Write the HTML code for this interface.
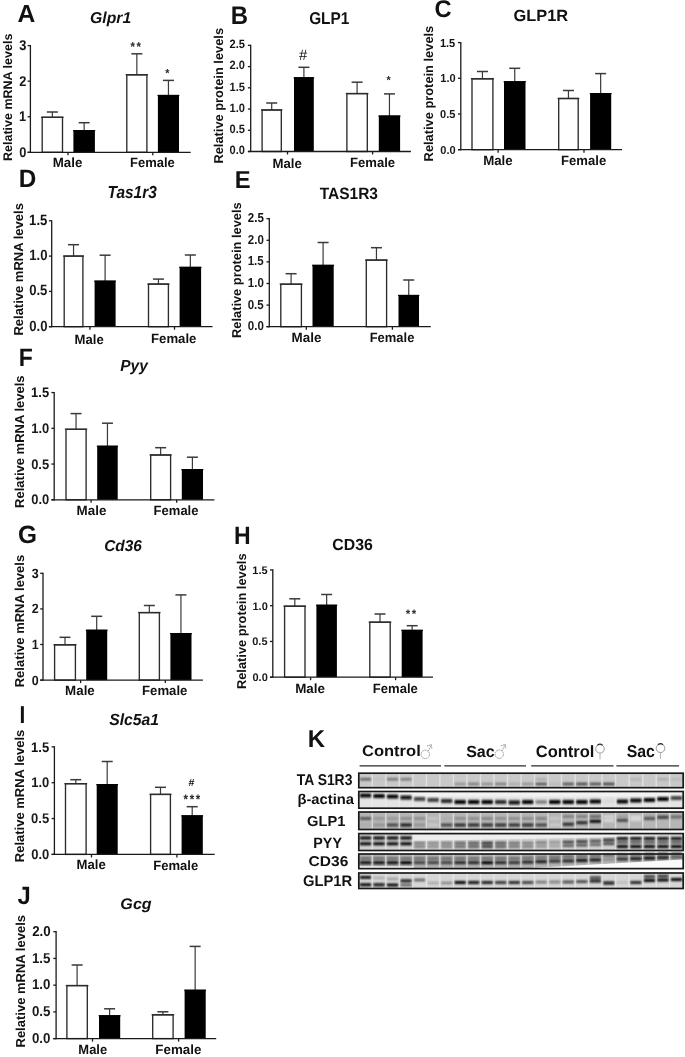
<!DOCTYPE html>
<html><head><meta charset="utf-8"><style>
html,body{margin:0;padding:0;background:#fff;}
body{width:685px;height:1057px;overflow:hidden;}
svg{display:block;font-family:"Liberation Sans", sans-serif;filter:grayscale(1);text-rendering:geometricPrecision;}
</style></head><body>
<svg width="685" height="1057" viewBox="0 0 685 1057">
<defs><filter id="bl" x="-20%" y="-50%" width="140%" height="200%"><feGaussianBlur stdDeviation="0.9"/></filter><filter id="bl2" x="-20%" y="-50%" width="140%" height="200%"><feGaussianBlur stdDeviation="0.5"/></filter></defs>
<rect width="685" height="1057" fill="#fff"/>
<line x1="27.599999999999998" y1="152.3" x2="30.4" y2="152.3" stroke="#1a1a1a" stroke-width="1.3"/>
<line x1="27.599999999999998" y1="116.73000000000002" x2="30.4" y2="116.73000000000002" stroke="#1a1a1a" stroke-width="1.3"/>
<line x1="27.599999999999998" y1="81.16000000000001" x2="30.4" y2="81.16000000000001" stroke="#1a1a1a" stroke-width="1.3"/>
<line x1="27.599999999999998" y1="45.59" x2="30.4" y2="45.59" stroke="#1a1a1a" stroke-width="1.3"/>
<line x1="30.4" y1="44.99" x2="30.4" y2="152.9" stroke="#1a1a1a" stroke-width="1.3"/>
<line x1="52.349999999999994" y1="112" x2="52.349999999999994" y2="117.3" stroke="#3a3a3a" stroke-width="1.2"/>
<line x1="46.849999999999994" y1="112" x2="57.849999999999994" y2="112" stroke="#3a3a3a" stroke-width="1.5"/>
<rect x="42.199999999999996" y="117.3" width="20.299999999999997" height="35.000000000000014" fill="#fff" stroke="#2c2c2c" stroke-width="1.35"/>
<line x1="41.1" y1="117.3" x2="63.599999999999994" y2="117.3" stroke="#2c2c2c" stroke-width="1.35"/>
<line x1="84.15" y1="122.7" x2="84.15" y2="130.7" stroke="#3a3a3a" stroke-width="1.2"/>
<line x1="78.65" y1="122.7" x2="89.65" y2="122.7" stroke="#3a3a3a" stroke-width="1.5"/>
<rect x="73.4" y="130.1" width="21.5" height="22.200000000000024" fill="#000"/>
<line x1="73.05000000000001" y1="130.7" x2="95.25" y2="130.7" stroke="#000" stroke-width="1.2"/>
<line x1="136.85" y1="53.8" x2="136.85" y2="74.8" stroke="#3a3a3a" stroke-width="1.2"/>
<line x1="131.35" y1="53.8" x2="142.35" y2="53.8" stroke="#3a3a3a" stroke-width="1.5"/>
<rect x="126.8" y="74.8" width="20.099999999999987" height="77.50000000000001" fill="#fff" stroke="#2c2c2c" stroke-width="1.35"/>
<line x1="125.7" y1="74.8" x2="148.0" y2="74.8" stroke="#2c2c2c" stroke-width="1.35"/>
<line x1="168.45" y1="80.4" x2="168.45" y2="95.5" stroke="#3a3a3a" stroke-width="1.2"/>
<line x1="162.95" y1="80.4" x2="173.95" y2="80.4" stroke="#3a3a3a" stroke-width="1.5"/>
<rect x="157.9" y="94.9" width="21.099999999999994" height="57.40000000000001" fill="#000"/>
<line x1="157.55" y1="95.5" x2="179.35" y2="95.5" stroke="#000" stroke-width="1.2"/>
<line x1="27.599999999999998" y1="152.3" x2="190.7" y2="152.3" stroke="#1a1a1a" stroke-width="1.3"/>
<line x1="68.0" y1="152.3" x2="68.0" y2="155.3" stroke="#1a1a1a" stroke-width="1.3"/>
<line x1="152.8" y1="152.3" x2="152.8" y2="155.3" stroke="#1a1a1a" stroke-width="1.3"/>
<text transform="translate(11.8,161) rotate(-90)" font-size="12.5" font-weight="bold" fill="#111">Relative mRNA levels</text>
<line x1="247.89999999999998" y1="151.5" x2="250.7" y2="151.5" stroke="#1a1a1a" stroke-width="1.3"/>
<line x1="247.89999999999998" y1="130.275" x2="250.7" y2="130.275" stroke="#1a1a1a" stroke-width="1.3"/>
<line x1="247.89999999999998" y1="109.05" x2="250.7" y2="109.05" stroke="#1a1a1a" stroke-width="1.3"/>
<line x1="247.89999999999998" y1="87.82499999999999" x2="250.7" y2="87.82499999999999" stroke="#1a1a1a" stroke-width="1.3"/>
<line x1="247.89999999999998" y1="66.6" x2="250.7" y2="66.6" stroke="#1a1a1a" stroke-width="1.3"/>
<line x1="247.89999999999998" y1="45.375" x2="250.7" y2="45.375" stroke="#1a1a1a" stroke-width="1.3"/>
<line x1="250.7" y1="44.775" x2="250.7" y2="152.1" stroke="#1a1a1a" stroke-width="1.3"/>
<line x1="271.70000000000005" y1="103" x2="271.70000000000005" y2="110" stroke="#3a3a3a" stroke-width="1.2"/>
<line x1="266.20000000000005" y1="103" x2="277.20000000000005" y2="103" stroke="#3a3a3a" stroke-width="1.5"/>
<rect x="262.1" y="110" width="19.20000000000001" height="41.5" fill="#fff" stroke="#2c2c2c" stroke-width="1.35"/>
<line x1="261.0" y1="110" x2="282.40000000000003" y2="110" stroke="#2c2c2c" stroke-width="1.35"/>
<line x1="303.9" y1="67.3" x2="303.9" y2="77.8" stroke="#3a3a3a" stroke-width="1.2"/>
<line x1="298.4" y1="67.3" x2="309.4" y2="67.3" stroke="#3a3a3a" stroke-width="1.5"/>
<rect x="294" y="77.2" width="19.80000000000001" height="74.3" fill="#000"/>
<line x1="293.65" y1="77.8" x2="314.15000000000003" y2="77.8" stroke="#000" stroke-width="1.2"/>
<line x1="357.1" y1="82.2" x2="357.1" y2="93.6" stroke="#3a3a3a" stroke-width="1.2"/>
<line x1="351.6" y1="82.2" x2="362.6" y2="82.2" stroke="#3a3a3a" stroke-width="1.5"/>
<rect x="346.90000000000003" y="93.6" width="20.4" height="57.900000000000006" fill="#fff" stroke="#2c2c2c" stroke-width="1.35"/>
<line x1="345.8" y1="93.6" x2="368.40000000000003" y2="93.6" stroke="#2c2c2c" stroke-width="1.35"/>
<line x1="389.45000000000005" y1="93.9" x2="389.45000000000005" y2="116.1" stroke="#3a3a3a" stroke-width="1.2"/>
<line x1="383.95000000000005" y1="93.9" x2="394.95000000000005" y2="93.9" stroke="#3a3a3a" stroke-width="1.5"/>
<rect x="378.8" y="115.5" width="21.30000000000001" height="36.00000000000001" fill="#000"/>
<line x1="378.45" y1="116.1" x2="400.45000000000005" y2="116.1" stroke="#000" stroke-width="1.2"/>
<line x1="247.89999999999998" y1="151.5" x2="410.9" y2="151.5" stroke="#1a1a1a" stroke-width="1.3"/>
<line x1="287.5" y1="151.5" x2="287.5" y2="154.5" stroke="#1a1a1a" stroke-width="1.3"/>
<line x1="372.6" y1="151.5" x2="372.6" y2="154.5" stroke="#1a1a1a" stroke-width="1.3"/>
<text transform="translate(223.3,163.6) rotate(-90)" font-size="12.85" font-weight="bold" fill="#111">Relative protein levels</text>
<line x1="458.0" y1="149.7" x2="460.8" y2="149.7" stroke="#1a1a1a" stroke-width="1.3"/>
<line x1="458.0" y1="113.99999999999999" x2="460.8" y2="113.99999999999999" stroke="#1a1a1a" stroke-width="1.3"/>
<line x1="458.0" y1="78.29999999999998" x2="460.8" y2="78.29999999999998" stroke="#1a1a1a" stroke-width="1.3"/>
<line x1="458.0" y1="42.59999999999998" x2="460.8" y2="42.59999999999998" stroke="#1a1a1a" stroke-width="1.3"/>
<line x1="460.8" y1="41.99999999999998" x2="460.8" y2="150.29999999999998" stroke="#1a1a1a" stroke-width="1.3"/>
<line x1="482.45" y1="71.5" x2="482.45" y2="78.8" stroke="#3a3a3a" stroke-width="1.2"/>
<line x1="476.95" y1="71.5" x2="487.95" y2="71.5" stroke="#3a3a3a" stroke-width="1.5"/>
<rect x="472.0" y="78.8" width="20.9" height="70.89999999999999" fill="#fff" stroke="#2c2c2c" stroke-width="1.35"/>
<line x1="470.9" y1="78.8" x2="494.0" y2="78.8" stroke="#2c2c2c" stroke-width="1.35"/>
<line x1="514.75" y1="68.3" x2="514.75" y2="81.8" stroke="#3a3a3a" stroke-width="1.2"/>
<line x1="509.25" y1="68.3" x2="520.25" y2="68.3" stroke="#3a3a3a" stroke-width="1.5"/>
<rect x="504" y="81.2" width="21.5" height="68.49999999999999" fill="#000"/>
<line x1="503.65" y1="81.8" x2="525.85" y2="81.8" stroke="#000" stroke-width="1.2"/>
<line x1="568.45" y1="90.5" x2="568.45" y2="98.5" stroke="#3a3a3a" stroke-width="1.2"/>
<line x1="562.95" y1="90.5" x2="573.95" y2="90.5" stroke="#3a3a3a" stroke-width="1.5"/>
<rect x="558.6999999999999" y="98.5" width="19.50000000000002" height="51.19999999999999" fill="#fff" stroke="#2c2c2c" stroke-width="1.35"/>
<line x1="557.6" y1="98.5" x2="579.3" y2="98.5" stroke="#2c2c2c" stroke-width="1.35"/>
<line x1="600.6500000000001" y1="73.6" x2="600.6500000000001" y2="93.6" stroke="#3a3a3a" stroke-width="1.2"/>
<line x1="595.1500000000001" y1="73.6" x2="606.1500000000001" y2="73.6" stroke="#3a3a3a" stroke-width="1.5"/>
<rect x="590.1" y="93.0" width="21.100000000000023" height="56.699999999999996" fill="#000"/>
<line x1="589.75" y1="93.6" x2="611.5500000000001" y2="93.6" stroke="#000" stroke-width="1.2"/>
<line x1="458.0" y1="149.7" x2="622" y2="149.7" stroke="#1a1a1a" stroke-width="1.3"/>
<line x1="498.1" y1="149.7" x2="498.1" y2="152.7" stroke="#1a1a1a" stroke-width="1.3"/>
<line x1="584" y1="149.7" x2="584" y2="152.7" stroke="#1a1a1a" stroke-width="1.3"/>
<text transform="translate(433.4,161.4) rotate(-90)" font-size="12.85" font-weight="bold" fill="#111">Relative protein levels</text>
<line x1="48.900000000000006" y1="326.7" x2="51.7" y2="326.7" stroke="#1a1a1a" stroke-width="1.3"/>
<line x1="48.900000000000006" y1="291.4" x2="51.7" y2="291.4" stroke="#1a1a1a" stroke-width="1.3"/>
<line x1="48.900000000000006" y1="256.1" x2="51.7" y2="256.1" stroke="#1a1a1a" stroke-width="1.3"/>
<line x1="48.900000000000006" y1="220.8" x2="51.7" y2="220.8" stroke="#1a1a1a" stroke-width="1.3"/>
<line x1="51.7" y1="220.20000000000002" x2="51.7" y2="327.3" stroke="#1a1a1a" stroke-width="1.3"/>
<line x1="73.55" y1="244.7" x2="73.55" y2="256.1" stroke="#3a3a3a" stroke-width="1.2"/>
<line x1="68.05" y1="244.7" x2="79.05" y2="244.7" stroke="#3a3a3a" stroke-width="1.5"/>
<rect x="64.2" y="256.1" width="18.700000000000003" height="70.59999999999997" fill="#fff" stroke="#2c2c2c" stroke-width="1.35"/>
<line x1="63.1" y1="256.1" x2="84.0" y2="256.1" stroke="#2c2c2c" stroke-width="1.35"/>
<line x1="105.1" y1="255.2" x2="105.1" y2="281.2" stroke="#3a3a3a" stroke-width="1.2"/>
<line x1="99.6" y1="255.2" x2="110.6" y2="255.2" stroke="#3a3a3a" stroke-width="1.5"/>
<rect x="94.6" y="280.59999999999997" width="21.0" height="46.1" fill="#000"/>
<line x1="94.25" y1="281.2" x2="115.94999999999999" y2="281.2" stroke="#000" stroke-width="1.2"/>
<line x1="158.45" y1="279.1" x2="158.45" y2="284.1" stroke="#3a3a3a" stroke-width="1.2"/>
<line x1="152.95" y1="279.1" x2="163.95" y2="279.1" stroke="#3a3a3a" stroke-width="1.5"/>
<rect x="148.5" y="284.1" width="19.9" height="42.599999999999966" fill="#fff" stroke="#2c2c2c" stroke-width="1.35"/>
<line x1="147.39999999999998" y1="284.1" x2="169.5" y2="284.1" stroke="#2c2c2c" stroke-width="1.35"/>
<line x1="190.35" y1="255" x2="190.35" y2="267.4" stroke="#3a3a3a" stroke-width="1.2"/>
<line x1="184.85" y1="255" x2="195.85" y2="255" stroke="#3a3a3a" stroke-width="1.5"/>
<rect x="179.6" y="266.79999999999995" width="21.5" height="59.90000000000001" fill="#000"/>
<line x1="179.25" y1="267.4" x2="201.45" y2="267.4" stroke="#000" stroke-width="1.2"/>
<line x1="48.900000000000006" y1="326.7" x2="212.5" y2="326.7" stroke="#1a1a1a" stroke-width="1.3"/>
<line x1="89.9" y1="326.7" x2="89.9" y2="329.7" stroke="#1a1a1a" stroke-width="1.3"/>
<line x1="174.5" y1="326.7" x2="174.5" y2="329.7" stroke="#1a1a1a" stroke-width="1.3"/>
<text transform="translate(22.6,335.6) rotate(-90)" font-size="13.0" font-weight="bold" fill="#111">Relative mRNA levels</text>
<line x1="266.5" y1="326.7" x2="269.3" y2="326.7" stroke="#1a1a1a" stroke-width="1.3"/>
<line x1="266.5" y1="305.09999999999997" x2="269.3" y2="305.09999999999997" stroke="#1a1a1a" stroke-width="1.3"/>
<line x1="266.5" y1="283.5" x2="269.3" y2="283.5" stroke="#1a1a1a" stroke-width="1.3"/>
<line x1="266.5" y1="261.9" x2="269.3" y2="261.9" stroke="#1a1a1a" stroke-width="1.3"/>
<line x1="266.5" y1="240.29999999999998" x2="269.3" y2="240.29999999999998" stroke="#1a1a1a" stroke-width="1.3"/>
<line x1="266.5" y1="218.7" x2="269.3" y2="218.7" stroke="#1a1a1a" stroke-width="1.3"/>
<line x1="269.3" y1="218.1" x2="269.3" y2="327.3" stroke="#1a1a1a" stroke-width="1.3"/>
<line x1="291.1" y1="273.7" x2="291.1" y2="284.2" stroke="#3a3a3a" stroke-width="1.2"/>
<line x1="285.6" y1="273.7" x2="296.6" y2="273.7" stroke="#3a3a3a" stroke-width="1.5"/>
<rect x="280.8" y="284.2" width="20.599999999999987" height="42.5" fill="#fff" stroke="#2c2c2c" stroke-width="1.35"/>
<line x1="279.7" y1="284.2" x2="302.5" y2="284.2" stroke="#2c2c2c" stroke-width="1.35"/>
<line x1="323.1" y1="242.5" x2="323.1" y2="265.4" stroke="#3a3a3a" stroke-width="1.2"/>
<line x1="317.6" y1="242.5" x2="328.6" y2="242.5" stroke="#3a3a3a" stroke-width="1.5"/>
<rect x="312.5" y="264.79999999999995" width="21.19999999999999" height="61.90000000000001" fill="#000"/>
<line x1="312.15" y1="265.4" x2="334.05" y2="265.4" stroke="#000" stroke-width="1.2"/>
<line x1="376.45" y1="247.7" x2="376.45" y2="260.1" stroke="#3a3a3a" stroke-width="1.2"/>
<line x1="370.95" y1="247.7" x2="381.95" y2="247.7" stroke="#3a3a3a" stroke-width="1.5"/>
<rect x="366.3" y="260.1" width="20.299999999999976" height="66.59999999999997" fill="#fff" stroke="#2c2c2c" stroke-width="1.35"/>
<line x1="365.2" y1="260.1" x2="387.7" y2="260.1" stroke="#2c2c2c" stroke-width="1.35"/>
<line x1="408.75" y1="280" x2="408.75" y2="295.5" stroke="#3a3a3a" stroke-width="1.2"/>
<line x1="403.25" y1="280" x2="414.25" y2="280" stroke="#3a3a3a" stroke-width="1.5"/>
<rect x="398.5" y="294.9" width="20.5" height="31.79999999999999" fill="#000"/>
<line x1="398.15" y1="295.5" x2="419.35" y2="295.5" stroke="#000" stroke-width="1.2"/>
<line x1="266.5" y1="326.7" x2="430.8" y2="326.7" stroke="#1a1a1a" stroke-width="1.3"/>
<line x1="306.3" y1="326.7" x2="306.3" y2="329.7" stroke="#1a1a1a" stroke-width="1.3"/>
<line x1="392.4" y1="326.7" x2="392.4" y2="329.7" stroke="#1a1a1a" stroke-width="1.3"/>
<text transform="translate(241.4,338) rotate(-90)" font-size="12.85" font-weight="bold" fill="#111">Relative protein levels</text>
<line x1="51.400000000000006" y1="499.8" x2="54.2" y2="499.8" stroke="#1a1a1a" stroke-width="1.3"/>
<line x1="51.400000000000006" y1="464.05" x2="54.2" y2="464.05" stroke="#1a1a1a" stroke-width="1.3"/>
<line x1="51.400000000000006" y1="428.3" x2="54.2" y2="428.3" stroke="#1a1a1a" stroke-width="1.3"/>
<line x1="51.400000000000006" y1="392.55" x2="54.2" y2="392.55" stroke="#1a1a1a" stroke-width="1.3"/>
<line x1="54.2" y1="391.95" x2="54.2" y2="500.40000000000003" stroke="#1a1a1a" stroke-width="1.3"/>
<line x1="76.05000000000001" y1="413.6" x2="76.05000000000001" y2="429.3" stroke="#3a3a3a" stroke-width="1.2"/>
<line x1="70.55000000000001" y1="413.6" x2="81.55000000000001" y2="413.6" stroke="#3a3a3a" stroke-width="1.5"/>
<rect x="66.0" y="429.3" width="20.1" height="70.5" fill="#fff" stroke="#2c2c2c" stroke-width="1.35"/>
<line x1="64.9" y1="429.3" x2="87.2" y2="429.3" stroke="#2c2c2c" stroke-width="1.35"/>
<line x1="107.45" y1="423.2" x2="107.45" y2="446.3" stroke="#3a3a3a" stroke-width="1.2"/>
<line x1="101.95" y1="423.2" x2="112.95" y2="423.2" stroke="#3a3a3a" stroke-width="1.5"/>
<rect x="97.2" y="445.7" width="20.5" height="54.1" fill="#000"/>
<line x1="96.85000000000001" y1="446.3" x2="118.05" y2="446.3" stroke="#000" stroke-width="1.2"/>
<line x1="160.65" y1="447.7" x2="160.65" y2="455" stroke="#3a3a3a" stroke-width="1.2"/>
<line x1="155.15" y1="447.7" x2="166.15" y2="447.7" stroke="#3a3a3a" stroke-width="1.5"/>
<rect x="150.70000000000002" y="455" width="19.9" height="44.80000000000001" fill="#fff" stroke="#2c2c2c" stroke-width="1.35"/>
<line x1="149.6" y1="455" x2="171.70000000000002" y2="455" stroke="#2c2c2c" stroke-width="1.35"/>
<line x1="192.4" y1="457.2" x2="192.4" y2="469.6" stroke="#3a3a3a" stroke-width="1.2"/>
<line x1="186.9" y1="457.2" x2="197.9" y2="457.2" stroke="#3a3a3a" stroke-width="1.5"/>
<rect x="181.8" y="469.0" width="21.19999999999999" height="30.79999999999999" fill="#000"/>
<line x1="181.45000000000002" y1="469.6" x2="203.35" y2="469.6" stroke="#000" stroke-width="1.2"/>
<line x1="51.400000000000006" y1="499.8" x2="214.4" y2="499.8" stroke="#1a1a1a" stroke-width="1.3"/>
<line x1="91.1" y1="499.8" x2="91.1" y2="502.8" stroke="#1a1a1a" stroke-width="1.3"/>
<line x1="176.7" y1="499.8" x2="176.7" y2="502.8" stroke="#1a1a1a" stroke-width="1.3"/>
<text transform="translate(24.3,507.9) rotate(-90)" font-size="13.0" font-weight="bold" fill="#111">Relative mRNA levels</text>
<line x1="40.2" y1="680.1" x2="43.0" y2="680.1" stroke="#1a1a1a" stroke-width="1.3"/>
<line x1="40.2" y1="644.5" x2="43.0" y2="644.5" stroke="#1a1a1a" stroke-width="1.3"/>
<line x1="40.2" y1="608.9" x2="43.0" y2="608.9" stroke="#1a1a1a" stroke-width="1.3"/>
<line x1="40.2" y1="573.3" x2="43.0" y2="573.3" stroke="#1a1a1a" stroke-width="1.3"/>
<line x1="43.0" y1="572.6999999999999" x2="43.0" y2="680.7" stroke="#1a1a1a" stroke-width="1.3"/>
<line x1="65.0" y1="637.3" x2="65.0" y2="644.8" stroke="#3a3a3a" stroke-width="1.2"/>
<line x1="59.5" y1="637.3" x2="70.5" y2="637.3" stroke="#3a3a3a" stroke-width="1.5"/>
<rect x="54.599999999999994" y="644.8" width="20.800000000000004" height="35.30000000000007" fill="#fff" stroke="#2c2c2c" stroke-width="1.35"/>
<line x1="53.5" y1="644.8" x2="76.5" y2="644.8" stroke="#2c2c2c" stroke-width="1.35"/>
<line x1="96.7" y1="616.3" x2="96.7" y2="630.3" stroke="#3a3a3a" stroke-width="1.2"/>
<line x1="91.2" y1="616.3" x2="102.2" y2="616.3" stroke="#3a3a3a" stroke-width="1.5"/>
<rect x="86.2" y="629.6999999999999" width="21.0" height="50.40000000000007" fill="#000"/>
<line x1="85.85000000000001" y1="630.3" x2="107.55" y2="630.3" stroke="#000" stroke-width="1.2"/>
<line x1="149.35" y1="605.5" x2="149.35" y2="612.6" stroke="#3a3a3a" stroke-width="1.2"/>
<line x1="143.85" y1="605.5" x2="154.85" y2="605.5" stroke="#3a3a3a" stroke-width="1.5"/>
<rect x="139.3" y="612.6" width="20.099999999999987" height="67.5" fill="#fff" stroke="#2c2c2c" stroke-width="1.35"/>
<line x1="138.2" y1="612.6" x2="160.5" y2="612.6" stroke="#2c2c2c" stroke-width="1.35"/>
<line x1="180.95" y1="594.9" x2="180.95" y2="633.6" stroke="#3a3a3a" stroke-width="1.2"/>
<line x1="175.45" y1="594.9" x2="186.45" y2="594.9" stroke="#3a3a3a" stroke-width="1.5"/>
<rect x="170.4" y="633.0" width="21.099999999999994" height="47.1" fill="#000"/>
<line x1="170.05" y1="633.6" x2="191.85" y2="633.6" stroke="#000" stroke-width="1.2"/>
<line x1="40.2" y1="680.1" x2="202.9" y2="680.1" stroke="#1a1a1a" stroke-width="1.3"/>
<line x1="80.6" y1="680.1" x2="80.6" y2="683.1" stroke="#1a1a1a" stroke-width="1.3"/>
<line x1="165.3" y1="680.1" x2="165.3" y2="683.1" stroke="#1a1a1a" stroke-width="1.3"/>
<text transform="translate(24.3,687.3) rotate(-90)" font-size="13.0" font-weight="bold" fill="#111">Relative mRNA levels</text>
<line x1="270.0" y1="677.2" x2="272.8" y2="677.2" stroke="#1a1a1a" stroke-width="1.3"/>
<line x1="270.0" y1="641.45" x2="272.8" y2="641.45" stroke="#1a1a1a" stroke-width="1.3"/>
<line x1="270.0" y1="605.7" x2="272.8" y2="605.7" stroke="#1a1a1a" stroke-width="1.3"/>
<line x1="270.0" y1="569.95" x2="272.8" y2="569.95" stroke="#1a1a1a" stroke-width="1.3"/>
<line x1="272.8" y1="569.35" x2="272.8" y2="677.8000000000001" stroke="#1a1a1a" stroke-width="1.3"/>
<line x1="294.8" y1="598.8" x2="294.8" y2="606.2" stroke="#3a3a3a" stroke-width="1.2"/>
<line x1="289.3" y1="598.8" x2="300.3" y2="598.8" stroke="#3a3a3a" stroke-width="1.5"/>
<rect x="284.6" y="606.2" width="20.4" height="71.0" fill="#fff" stroke="#2c2c2c" stroke-width="1.35"/>
<line x1="283.5" y1="606.2" x2="306.1" y2="606.2" stroke="#2c2c2c" stroke-width="1.35"/>
<line x1="326.65" y1="594.5" x2="326.65" y2="605.3" stroke="#3a3a3a" stroke-width="1.2"/>
<line x1="321.15" y1="594.5" x2="332.15" y2="594.5" stroke="#3a3a3a" stroke-width="1.5"/>
<rect x="316.4" y="604.6999999999999" width="20.5" height="72.50000000000009" fill="#000"/>
<line x1="316.04999999999995" y1="605.3" x2="337.25" y2="605.3" stroke="#000" stroke-width="1.2"/>
<line x1="380.0" y1="614" x2="380.0" y2="622.2" stroke="#3a3a3a" stroke-width="1.2"/>
<line x1="374.5" y1="614" x2="385.5" y2="614" stroke="#3a3a3a" stroke-width="1.5"/>
<rect x="369.8" y="622.2" width="20.4" height="55.0" fill="#fff" stroke="#2c2c2c" stroke-width="1.35"/>
<line x1="368.7" y1="622.2" x2="391.3" y2="622.2" stroke="#2c2c2c" stroke-width="1.35"/>
<line x1="412.15" y1="625.7" x2="412.15" y2="630.4" stroke="#3a3a3a" stroke-width="1.2"/>
<line x1="406.65" y1="625.7" x2="417.65" y2="625.7" stroke="#3a3a3a" stroke-width="1.5"/>
<rect x="401.7" y="629.8" width="20.900000000000034" height="47.40000000000007" fill="#000"/>
<line x1="401.34999999999997" y1="630.4" x2="422.95000000000005" y2="630.4" stroke="#000" stroke-width="1.2"/>
<line x1="270.0" y1="677.2" x2="433" y2="677.2" stroke="#1a1a1a" stroke-width="1.3"/>
<line x1="310.6" y1="677.2" x2="310.6" y2="680.2" stroke="#1a1a1a" stroke-width="1.3"/>
<line x1="395.6" y1="677.2" x2="395.6" y2="680.2" stroke="#1a1a1a" stroke-width="1.3"/>
<text transform="translate(246.1,689.1) rotate(-90)" font-size="12.85" font-weight="bold" fill="#111">Relative protein levels</text>
<line x1="51.6" y1="854.4" x2="54.4" y2="854.4" stroke="#1a1a1a" stroke-width="1.3"/>
<line x1="51.6" y1="818.55" x2="54.4" y2="818.55" stroke="#1a1a1a" stroke-width="1.3"/>
<line x1="51.6" y1="782.6999999999999" x2="54.4" y2="782.6999999999999" stroke="#1a1a1a" stroke-width="1.3"/>
<line x1="51.6" y1="746.8499999999999" x2="54.4" y2="746.8499999999999" stroke="#1a1a1a" stroke-width="1.3"/>
<line x1="54.4" y1="746.2499999999999" x2="54.4" y2="855.0" stroke="#1a1a1a" stroke-width="1.3"/>
<line x1="75.80000000000001" y1="779.7" x2="75.80000000000001" y2="783.7" stroke="#3a3a3a" stroke-width="1.2"/>
<line x1="70.30000000000001" y1="779.7" x2="81.30000000000001" y2="779.7" stroke="#3a3a3a" stroke-width="1.5"/>
<rect x="65.5" y="783.7" width="20.6" height="70.69999999999993" fill="#fff" stroke="#2c2c2c" stroke-width="1.35"/>
<line x1="64.4" y1="783.7" x2="87.2" y2="783.7" stroke="#2c2c2c" stroke-width="1.35"/>
<line x1="107.2" y1="761.5" x2="107.2" y2="784.6" stroke="#3a3a3a" stroke-width="1.2"/>
<line x1="101.7" y1="761.5" x2="112.7" y2="761.5" stroke="#3a3a3a" stroke-width="1.5"/>
<rect x="96.7" y="784.0" width="21.0" height="70.39999999999995" fill="#000"/>
<line x1="96.35000000000001" y1="784.6" x2="118.05" y2="784.6" stroke="#000" stroke-width="1.2"/>
<line x1="160.5" y1="787.3" x2="160.5" y2="794.4" stroke="#3a3a3a" stroke-width="1.2"/>
<line x1="155.0" y1="787.3" x2="166.0" y2="787.3" stroke="#3a3a3a" stroke-width="1.5"/>
<rect x="150.60000000000002" y="794.4" width="19.799999999999976" height="60.0" fill="#fff" stroke="#2c2c2c" stroke-width="1.35"/>
<line x1="149.5" y1="794.4" x2="171.5" y2="794.4" stroke="#2c2c2c" stroke-width="1.35"/>
<line x1="192.2" y1="806.7" x2="192.2" y2="815.9" stroke="#3a3a3a" stroke-width="1.2"/>
<line x1="186.7" y1="806.7" x2="197.7" y2="806.7" stroke="#3a3a3a" stroke-width="1.5"/>
<rect x="181.6" y="815.3" width="21.200000000000017" height="39.1" fill="#000"/>
<line x1="181.25" y1="815.9" x2="203.15" y2="815.9" stroke="#000" stroke-width="1.2"/>
<line x1="51.6" y1="854.4" x2="214.7" y2="854.4" stroke="#1a1a1a" stroke-width="1.3"/>
<line x1="91.5" y1="854.4" x2="91.5" y2="857.4" stroke="#1a1a1a" stroke-width="1.3"/>
<line x1="176.9" y1="854.4" x2="176.9" y2="857.4" stroke="#1a1a1a" stroke-width="1.3"/>
<text transform="translate(24.3,862.2) rotate(-90)" font-size="13.0" font-weight="bold" fill="#111">Relative mRNA levels</text>
<line x1="53.300000000000004" y1="1038.6" x2="56.1" y2="1038.6" stroke="#1a1a1a" stroke-width="1.3"/>
<line x1="53.300000000000004" y1="1011.8749999999999" x2="56.1" y2="1011.8749999999999" stroke="#1a1a1a" stroke-width="1.3"/>
<line x1="53.300000000000004" y1="985.1499999999999" x2="56.1" y2="985.1499999999999" stroke="#1a1a1a" stroke-width="1.3"/>
<line x1="53.300000000000004" y1="958.425" x2="56.1" y2="958.425" stroke="#1a1a1a" stroke-width="1.3"/>
<line x1="53.300000000000004" y1="931.6999999999999" x2="56.1" y2="931.6999999999999" stroke="#1a1a1a" stroke-width="1.3"/>
<line x1="56.1" y1="931.0999999999999" x2="56.1" y2="1039.1999999999998" stroke="#1a1a1a" stroke-width="1.3"/>
<line x1="77.1" y1="965" x2="77.1" y2="985.6" stroke="#3a3a3a" stroke-width="1.2"/>
<line x1="71.6" y1="965" x2="82.6" y2="965" stroke="#3a3a3a" stroke-width="1.5"/>
<rect x="66.89999999999999" y="985.6" width="20.4" height="52.999999999999886" fill="#fff" stroke="#2c2c2c" stroke-width="1.35"/>
<line x1="65.8" y1="985.6" x2="88.39999999999999" y2="985.6" stroke="#2c2c2c" stroke-width="1.35"/>
<line x1="109.6" y1="1008.8" x2="109.6" y2="1015.8" stroke="#3a3a3a" stroke-width="1.2"/>
<line x1="104.1" y1="1008.8" x2="115.1" y2="1008.8" stroke="#3a3a3a" stroke-width="1.5"/>
<rect x="99" y="1015.1999999999999" width="21.200000000000003" height="23.399999999999956" fill="#000"/>
<line x1="98.65" y1="1015.8" x2="120.55" y2="1015.8" stroke="#000" stroke-width="1.2"/>
<line x1="162.9" y1="1011.8" x2="162.9" y2="1014.8" stroke="#3a3a3a" stroke-width="1.2"/>
<line x1="157.4" y1="1011.8" x2="168.4" y2="1011.8" stroke="#3a3a3a" stroke-width="1.5"/>
<rect x="152.70000000000002" y="1014.8" width="20.4" height="23.799999999999955" fill="#fff" stroke="#2c2c2c" stroke-width="1.35"/>
<line x1="151.6" y1="1014.8" x2="174.20000000000002" y2="1014.8" stroke="#2c2c2c" stroke-width="1.35"/>
<line x1="195.14999999999998" y1="946.4" x2="195.14999999999998" y2="990.3" stroke="#3a3a3a" stroke-width="1.2"/>
<line x1="189.64999999999998" y1="946.4" x2="200.64999999999998" y2="946.4" stroke="#3a3a3a" stroke-width="1.5"/>
<rect x="184.6" y="989.6999999999999" width="21.099999999999994" height="48.899999999999956" fill="#000"/>
<line x1="184.25" y1="990.3" x2="206.04999999999998" y2="990.3" stroke="#000" stroke-width="1.2"/>
<line x1="53.300000000000004" y1="1038.6" x2="216.2" y2="1038.6" stroke="#1a1a1a" stroke-width="1.3"/>
<line x1="92.5" y1="1038.6" x2="92.5" y2="1041.6" stroke="#1a1a1a" stroke-width="1.3"/>
<line x1="178.6" y1="1038.6" x2="178.6" y2="1041.6" stroke="#1a1a1a" stroke-width="1.3"/>
<text transform="translate(25.2,1047.5) rotate(-90)" font-size="13.0" font-weight="bold" fill="#111">Relative mRNA levels</text>
<g stroke="#8f8f8f" stroke-width="0.9" fill="none" stroke-dasharray="1.6 0.7"><circle cx="425.3" cy="754.4" r="4.2"/><line x1="428.0" y1="751.1999999999999" x2="431.3" y2="744.8"/><polyline points="426.90000000000003,746.0 431.3,744.6 431.90000000000003,748.8"/></g>
<g stroke="#8f8f8f" stroke-width="0.9" fill="none" stroke-dasharray="1.6 0.7"><circle cx="499.2" cy="754.2" r="4.2"/><line x1="501.9" y1="751.0" x2="505.2" y2="744.6"/><polyline points="500.8,745.8000000000001 505.2,744.4000000000001 505.8,748.6"/></g>
<g stroke="#8f8f8f" stroke-width="0.9" fill="none"><circle cx="600.0" cy="748.8" r="4.3"/><path d="M597.4,745.1999999999999 A4.3,4.3 0 0 1 602.6,745.1999999999999" stroke="#333" stroke-width="1.2"/><line x1="600.0" y1="753.0999999999999" x2="600.0" y2="759.4" stroke="#aaa"/></g>
<g stroke="#8f8f8f" stroke-width="0.9" fill="none"><circle cx="660.5" cy="748.3" r="4.3"/><path d="M657.9,744.6999999999999 A4.3,4.3 0 0 1 663.1,744.6999999999999" stroke="#333" stroke-width="1.2"/><line x1="660.5" y1="752.5999999999999" x2="660.5" y2="758.9" stroke="#aaa"/></g>
<line x1="359.6" y1="765.8" x2="441.0" y2="765.8" stroke="#2a2a2a" stroke-width="1.3"/>
<line x1="444.4" y1="765.8" x2="526.0" y2="765.8" stroke="#2a2a2a" stroke-width="1.3"/>
<line x1="531.2" y1="765.8" x2="613.5" y2="765.8" stroke="#2a2a2a" stroke-width="1.3"/>
<line x1="616.4" y1="765.8" x2="679.0" y2="765.8" stroke="#2a2a2a" stroke-width="1.3"/>
<rect x="358.8" y="773.2" width="324.40000000000003" height="14.5" fill="#c9c9c9"/>
<g filter="url(#bl)">
<rect x="359.7" y="777.9" width="11.7" height="2.6" rx="1" fill="rgb(92,92,92)"/>
<rect x="373.2" y="777.9" width="11.7" height="2.6" rx="1" fill="rgb(193,193,193)"/>
<rect x="386.7" y="777.9" width="11.7" height="2.6" rx="1" fill="rgb(113,113,113)"/>
<rect x="400.2" y="777.9" width="11.7" height="2.6" rx="1" fill="rgb(119,119,119)"/>
<rect x="535.4" y="777.9" width="11.7" height="2.6" rx="1" fill="rgb(172,172,172)"/>
<rect x="630.0" y="777.9" width="11.7" height="2.6" rx="1" fill="rgb(177,177,177)"/>
<rect x="657.1" y="777.9" width="11.7" height="2.6" rx="1" fill="rgb(172,172,172)"/>
<rect x="670.6" y="777.9" width="11.7" height="2.6" rx="1" fill="rgb(185,185,185)"/>
<rect x="454.3" y="782.8" width="11.7" height="2.4" rx="1" fill="rgb(145,145,145)"/>
<rect x="467.8" y="782.8" width="11.7" height="2.4" rx="1" fill="rgb(124,124,124)"/>
<rect x="481.4" y="782.8" width="11.7" height="2.4" rx="1" fill="rgb(140,140,140)"/>
<rect x="494.9" y="782.8" width="11.7" height="2.4" rx="1" fill="rgb(124,124,124)"/>
<rect x="508.4" y="782.8" width="11.7" height="2.4" rx="1" fill="rgb(172,172,172)"/>
<rect x="521.9" y="782.8" width="11.7" height="2.4" rx="1" fill="rgb(145,145,145)"/>
<rect x="535.4" y="782.8" width="11.7" height="2.4" rx="1" fill="rgb(79,79,79)"/>
<rect x="548.9" y="782.8" width="11.7" height="2.4" rx="1" fill="rgb(185,185,185)"/>
<rect x="562.4" y="782.8" width="11.7" height="2.4" rx="1" fill="rgb(79,79,79)"/>
<rect x="576.0" y="782.8" width="11.7" height="2.4" rx="1" fill="rgb(66,66,66)"/>
<rect x="589.5" y="782.8" width="11.7" height="2.4" rx="1" fill="rgb(71,71,71)"/>
<rect x="603.0" y="782.8" width="11.7" height="2.4" rx="1" fill="rgb(60,60,60)"/>
</g>
<g filter="url(#bl2)" opacity="0.6">
<rect x="371.6" y="773.2" width="1.4" height="14.5" fill="#f0f0f0"/>
<rect x="385.1" y="773.2" width="1.4" height="14.5" fill="#f0f0f0"/>
<rect x="398.7" y="773.2" width="1.4" height="14.5" fill="#f0f0f0"/>
<rect x="412.2" y="773.2" width="1.4" height="14.5" fill="#f0f0f0"/>
<rect x="425.7" y="773.2" width="1.4" height="14.5" fill="#f0f0f0"/>
<rect x="439.2" y="773.2" width="1.4" height="14.5" fill="#f0f0f0"/>
<rect x="452.7" y="773.2" width="1.4" height="14.5" fill="#f0f0f0"/>
<rect x="466.2" y="773.2" width="1.4" height="14.5" fill="#f0f0f0"/>
<rect x="479.8" y="773.2" width="1.4" height="14.5" fill="#f0f0f0"/>
<rect x="493.3" y="773.2" width="1.4" height="14.5" fill="#f0f0f0"/>
<rect x="506.8" y="773.2" width="1.4" height="14.5" fill="#f0f0f0"/>
<rect x="520.3" y="773.2" width="1.4" height="14.5" fill="#f0f0f0"/>
<rect x="533.8" y="773.2" width="1.4" height="14.5" fill="#f0f0f0"/>
<rect x="547.3" y="773.2" width="1.4" height="14.5" fill="#f0f0f0"/>
<rect x="560.8" y="773.2" width="1.4" height="14.5" fill="#f0f0f0"/>
<rect x="574.4" y="773.2" width="1.4" height="14.5" fill="#f0f0f0"/>
<rect x="587.9" y="773.2" width="1.4" height="14.5" fill="#f0f0f0"/>
<rect x="601.4" y="773.2" width="1.4" height="14.5" fill="#f0f0f0"/>
<rect x="614.9" y="773.2" width="1.4" height="14.5" fill="#f0f0f0"/>
<rect x="628.4" y="773.2" width="1.4" height="14.5" fill="#f0f0f0"/>
<rect x="642.0" y="773.2" width="1.4" height="14.5" fill="#f0f0f0"/>
<rect x="655.5" y="773.2" width="1.4" height="14.5" fill="#f0f0f0"/>
<rect x="669.0" y="773.2" width="1.4" height="14.5" fill="#f0f0f0"/>
</g>
<rect x="358.8" y="773.2" width="324.40000000000003" height="14.5" fill="none" stroke="#1a1a1a" stroke-width="1.7"/>
<rect x="358.8" y="791.5" width="324.40000000000003" height="16.700000000000045" fill="#e4e4e4"/>
<rect x="358.8" y="791.5" width="324.40000000000003" height="5" fill="#f2f2f2"/>
<g filter="url(#bl)">
<rect x="359.7" y="793.6" width="11.7" height="3.8" rx="1" fill="rgb(0,0,0)"/>
<rect x="373.2" y="794.1" width="11.7" height="3.8" rx="1" fill="rgb(0,0,0)"/>
<rect x="386.7" y="794.6" width="11.7" height="3.8" rx="1" fill="rgb(0,0,0)"/>
<rect x="400.2" y="795.6" width="11.7" height="3.8" rx="1" fill="rgb(13,13,13)"/>
<rect x="413.8" y="797.1" width="11.7" height="3.8" rx="1" fill="rgb(66,66,66)"/>
<rect x="427.3" y="798.1" width="11.7" height="3.8" rx="1" fill="rgb(60,60,60)"/>
<rect x="440.8" y="799.1" width="11.7" height="3.8" rx="1" fill="rgb(39,39,39)"/>
<rect x="454.3" y="800.1" width="11.7" height="3.8" rx="1" fill="rgb(0,0,0)"/>
<rect x="467.8" y="800.1" width="11.7" height="3.8" rx="1" fill="rgb(0,0,0)"/>
<rect x="481.4" y="800.1" width="11.7" height="3.8" rx="1" fill="rgb(0,0,0)"/>
<rect x="494.9" y="800.1" width="11.7" height="3.8" rx="1" fill="rgb(39,39,39)"/>
<rect x="508.4" y="800.6" width="11.7" height="3.8" rx="1" fill="rgb(13,13,13)"/>
<rect x="521.9" y="800.1" width="11.7" height="3.8" rx="1" fill="rgb(0,0,0)"/>
<rect x="535.4" y="800.1" width="11.7" height="3.8" rx="1" fill="rgb(132,132,132)"/>
<rect x="548.9" y="800.1" width="11.7" height="3.8" rx="1" fill="rgb(0,0,0)"/>
<rect x="562.4" y="800.1" width="11.7" height="3.8" rx="1" fill="rgb(0,0,0)"/>
<rect x="576.0" y="800.1" width="11.7" height="3.8" rx="1" fill="rgb(0,0,0)"/>
<rect x="589.5" y="799.6" width="11.7" height="3.8" rx="1" fill="rgb(0,0,0)"/>
<rect x="603.0" y="799.1" width="11.7" height="3.8" rx="1" fill="rgb(217,217,217)"/>
<rect x="616.5" y="799.6" width="11.7" height="3.8" rx="1" fill="rgb(0,0,0)"/>
<rect x="630.0" y="798.6" width="11.7" height="3.8" rx="1" fill="rgb(0,0,0)"/>
<rect x="643.6" y="798.1" width="11.7" height="3.8" rx="1" fill="rgb(0,0,0)"/>
<rect x="657.1" y="797.1" width="11.7" height="3.8" rx="1" fill="rgb(0,0,0)"/>
<rect x="670.6" y="796.1" width="11.7" height="3.8" rx="1" fill="rgb(66,66,66)"/>
</g>
<g filter="url(#bl2)" opacity="0.6">
<rect x="371.6" y="791.5" width="1.4" height="16.700000000000045" fill="#f0f0f0"/>
<rect x="385.1" y="791.5" width="1.4" height="16.700000000000045" fill="#f0f0f0"/>
<rect x="398.7" y="791.5" width="1.4" height="16.700000000000045" fill="#f0f0f0"/>
<rect x="412.2" y="791.5" width="1.4" height="16.700000000000045" fill="#f0f0f0"/>
<rect x="425.7" y="791.5" width="1.4" height="16.700000000000045" fill="#f0f0f0"/>
<rect x="439.2" y="791.5" width="1.4" height="16.700000000000045" fill="#f0f0f0"/>
<rect x="452.7" y="791.5" width="1.4" height="16.700000000000045" fill="#f0f0f0"/>
<rect x="466.2" y="791.5" width="1.4" height="16.700000000000045" fill="#f0f0f0"/>
<rect x="479.8" y="791.5" width="1.4" height="16.700000000000045" fill="#f0f0f0"/>
<rect x="493.3" y="791.5" width="1.4" height="16.700000000000045" fill="#f0f0f0"/>
<rect x="506.8" y="791.5" width="1.4" height="16.700000000000045" fill="#f0f0f0"/>
<rect x="520.3" y="791.5" width="1.4" height="16.700000000000045" fill="#f0f0f0"/>
<rect x="533.8" y="791.5" width="1.4" height="16.700000000000045" fill="#f0f0f0"/>
<rect x="547.3" y="791.5" width="1.4" height="16.700000000000045" fill="#f0f0f0"/>
<rect x="560.8" y="791.5" width="1.4" height="16.700000000000045" fill="#f0f0f0"/>
<rect x="574.4" y="791.5" width="1.4" height="16.700000000000045" fill="#f0f0f0"/>
<rect x="587.9" y="791.5" width="1.4" height="16.700000000000045" fill="#f0f0f0"/>
<rect x="601.4" y="791.5" width="1.4" height="16.700000000000045" fill="#f0f0f0"/>
<rect x="614.9" y="791.5" width="1.4" height="16.700000000000045" fill="#f0f0f0"/>
<rect x="628.4" y="791.5" width="1.4" height="16.700000000000045" fill="#f0f0f0"/>
<rect x="642.0" y="791.5" width="1.4" height="16.700000000000045" fill="#f0f0f0"/>
<rect x="655.5" y="791.5" width="1.4" height="16.700000000000045" fill="#f0f0f0"/>
<rect x="669.0" y="791.5" width="1.4" height="16.700000000000045" fill="#f0f0f0"/>
</g>
<rect x="358.8" y="791.5" width="324.40000000000003" height="16.700000000000045" fill="none" stroke="#1a1a1a" stroke-width="1.7"/>
<rect x="358.8" y="812.0" width="324.40000000000003" height="17.5" fill="#b6b6b6"/>
<g filter="url(#bl)">
<rect x="359.7" y="817.2" width="11.7" height="2.6" rx="1" fill="rgb(66,66,66)"/>
<rect x="359.7" y="823.5" width="11.7" height="3.0" rx="1" fill="rgb(172,172,172)"/>
<rect x="373.2" y="817.2" width="11.7" height="2.6" rx="1" fill="rgb(145,145,145)"/>
<rect x="373.2" y="823.5" width="11.7" height="3.0" rx="1" fill="rgb(145,145,145)"/>
<rect x="386.7" y="817.2" width="11.7" height="2.6" rx="1" fill="rgb(145,145,145)"/>
<rect x="386.7" y="823.5" width="11.7" height="3.0" rx="1" fill="rgb(66,66,66)"/>
<rect x="400.2" y="817.2" width="11.7" height="2.6" rx="1" fill="rgb(132,132,132)"/>
<rect x="400.2" y="823.5" width="11.7" height="3.0" rx="1" fill="rgb(18,18,18)"/>
<rect x="413.8" y="817.2" width="11.7" height="2.6" rx="1" fill="rgb(132,132,132)"/>
<rect x="413.8" y="823.5" width="11.7" height="3.0" rx="1" fill="rgb(145,145,145)"/>
<rect x="427.3" y="817.2" width="11.7" height="2.6" rx="1" fill="rgb(198,198,198)"/>
<rect x="427.3" y="823.5" width="11.7" height="3.0" rx="1" fill="rgb(203,203,203)"/>
<rect x="440.8" y="817.2" width="11.7" height="2.6" rx="1" fill="rgb(172,172,172)"/>
<rect x="440.8" y="823.5" width="11.7" height="3.0" rx="1" fill="rgb(66,66,66)"/>
<rect x="454.3" y="817.2" width="11.7" height="2.6" rx="1" fill="rgb(132,132,132)"/>
<rect x="454.3" y="823.5" width="11.7" height="3.0" rx="1" fill="rgb(34,34,34)"/>
<rect x="467.8" y="817.2" width="11.7" height="2.6" rx="1" fill="rgb(132,132,132)"/>
<rect x="467.8" y="823.5" width="11.7" height="3.0" rx="1" fill="rgb(34,34,34)"/>
<rect x="481.4" y="817.2" width="11.7" height="2.6" rx="1" fill="rgb(124,124,124)"/>
<rect x="481.4" y="823.5" width="11.7" height="3.0" rx="1" fill="rgb(39,39,39)"/>
<rect x="494.9" y="817.2" width="11.7" height="2.6" rx="1" fill="rgb(132,132,132)"/>
<rect x="494.9" y="823.5" width="11.7" height="3.0" rx="1" fill="rgb(39,39,39)"/>
<rect x="508.4" y="817.2" width="11.7" height="2.6" rx="1" fill="rgb(132,132,132)"/>
<rect x="508.4" y="823.5" width="11.7" height="3.0" rx="1" fill="rgb(44,44,44)"/>
<rect x="521.9" y="817.2" width="11.7" height="2.6" rx="1" fill="rgb(132,132,132)"/>
<rect x="521.9" y="823.5" width="11.7" height="3.0" rx="1" fill="rgb(39,39,39)"/>
<rect x="535.4" y="817.2" width="11.7" height="2.6" rx="1" fill="rgb(119,119,119)"/>
<rect x="535.4" y="823.5" width="11.7" height="3.0" rx="1" fill="rgb(60,60,60)"/>
<rect x="548.9" y="817.2" width="11.7" height="2.6" rx="1" fill="rgb(203,203,203)"/>
<rect x="548.9" y="823.5" width="11.7" height="3.0" rx="1" fill="rgb(203,203,203)"/>
<rect x="562.4" y="815.2" width="11.7" height="2.6" rx="1" fill="rgb(119,119,119)"/>
<rect x="562.4" y="822.7" width="11.7" height="3.0" rx="1" fill="rgb(39,39,39)"/>
<rect x="576.0" y="815.2" width="11.7" height="2.6" rx="1" fill="rgb(119,119,119)"/>
<rect x="576.0" y="821.3" width="11.7" height="3.0" rx="1" fill="rgb(34,34,34)"/>
<rect x="589.5" y="815.2" width="11.7" height="2.6" rx="1" fill="rgb(92,92,92)"/>
<rect x="589.5" y="819.7" width="11.7" height="3.0" rx="1" fill="rgb(0,0,0)"/>
<rect x="603.0" y="815.2" width="11.7" height="2.6" rx="1" fill="rgb(217,217,217)"/>
<rect x="603.0" y="819.0" width="11.7" height="3.0" rx="1" fill="rgb(217,217,217)"/>
<rect x="616.5" y="815.2" width="11.7" height="2.6" rx="1" fill="rgb(158,158,158)"/>
<rect x="616.5" y="818.7" width="11.7" height="3.0" rx="1" fill="rgb(66,66,66)"/>
<rect x="630.0" y="815.2" width="11.7" height="2.6" rx="1" fill="rgb(217,217,217)"/>
<rect x="630.0" y="818.0" width="11.7" height="3.0" rx="1" fill="rgb(217,217,217)"/>
<rect x="643.6" y="815.2" width="11.7" height="2.6" rx="1" fill="rgb(158,158,158)"/>
<rect x="643.6" y="817.0" width="11.7" height="3.0" rx="1" fill="rgb(79,79,79)"/>
<rect x="657.1" y="815.2" width="11.7" height="2.6" rx="1" fill="rgb(145,145,145)"/>
<rect x="657.1" y="815.7" width="11.7" height="3.0" rx="1" fill="rgb(52,52,52)"/>
<rect x="670.6" y="815.2" width="11.7" height="2.6" rx="1" fill="rgb(145,145,145)"/>
<rect x="670.6" y="815.5" width="11.7" height="3.0" rx="1" fill="rgb(105,105,105)"/>
</g>
<g filter="url(#bl2)" opacity="0.6">
<rect x="371.6" y="812.0" width="1.4" height="17.5" fill="#f0f0f0"/>
<rect x="385.1" y="812.0" width="1.4" height="17.5" fill="#f0f0f0"/>
<rect x="398.7" y="812.0" width="1.4" height="17.5" fill="#f0f0f0"/>
<rect x="412.2" y="812.0" width="1.4" height="17.5" fill="#f0f0f0"/>
<rect x="425.7" y="812.0" width="1.4" height="17.5" fill="#f0f0f0"/>
<rect x="439.2" y="812.0" width="1.4" height="17.5" fill="#f0f0f0"/>
<rect x="452.7" y="812.0" width="1.4" height="17.5" fill="#f0f0f0"/>
<rect x="466.2" y="812.0" width="1.4" height="17.5" fill="#f0f0f0"/>
<rect x="479.8" y="812.0" width="1.4" height="17.5" fill="#f0f0f0"/>
<rect x="493.3" y="812.0" width="1.4" height="17.5" fill="#f0f0f0"/>
<rect x="506.8" y="812.0" width="1.4" height="17.5" fill="#f0f0f0"/>
<rect x="520.3" y="812.0" width="1.4" height="17.5" fill="#f0f0f0"/>
<rect x="533.8" y="812.0" width="1.4" height="17.5" fill="#f0f0f0"/>
<rect x="547.3" y="812.0" width="1.4" height="17.5" fill="#f0f0f0"/>
<rect x="560.8" y="812.0" width="1.4" height="17.5" fill="#f0f0f0"/>
<rect x="574.4" y="812.0" width="1.4" height="17.5" fill="#f0f0f0"/>
<rect x="587.9" y="812.0" width="1.4" height="17.5" fill="#f0f0f0"/>
<rect x="601.4" y="812.0" width="1.4" height="17.5" fill="#f0f0f0"/>
<rect x="614.9" y="812.0" width="1.4" height="17.5" fill="#f0f0f0"/>
<rect x="628.4" y="812.0" width="1.4" height="17.5" fill="#f0f0f0"/>
<rect x="642.0" y="812.0" width="1.4" height="17.5" fill="#f0f0f0"/>
<rect x="655.5" y="812.0" width="1.4" height="17.5" fill="#f0f0f0"/>
<rect x="669.0" y="812.0" width="1.4" height="17.5" fill="#f0f0f0"/>
</g>
<rect x="358.8" y="812.0" width="324.40000000000003" height="17.5" fill="none" stroke="#1a1a1a" stroke-width="1.7"/>
<rect x="358.8" y="833.6" width="324.40000000000003" height="16.899999999999977" fill="#d0d0d0"/>
<polygon points="412.8,833.6 683.2,833.6 683.2,834.6 598.8,837.6 412.8,841.1" fill="#eeeeee"/>
<g filter="url(#bl)">
<rect x="359.7" y="836.4" width="11.7" height="3.0" rx="1" fill="rgb(0,0,0)"/>
<rect x="359.7" y="842.2" width="11.7" height="3.0" rx="1" fill="rgb(0,0,0)"/>
<rect x="373.2" y="836.4" width="11.7" height="3.0" rx="1" fill="rgb(0,0,0)"/>
<rect x="373.2" y="842.2" width="11.7" height="3.0" rx="1" fill="rgb(0,0,0)"/>
<rect x="386.7" y="836.4" width="11.7" height="3.0" rx="1" fill="rgb(0,0,0)"/>
<rect x="386.7" y="842.2" width="11.7" height="3.0" rx="1" fill="rgb(0,0,0)"/>
<rect x="400.2" y="836.4" width="11.7" height="3.0" rx="1" fill="rgb(0,0,0)"/>
<rect x="400.2" y="842.2" width="11.7" height="3.0" rx="1" fill="rgb(0,0,0)"/>
<rect x="413.8" y="841.7" width="11.7" height="2.6" rx="1" fill="rgb(119,119,119)"/>
<rect x="413.8" y="845.3" width="11.7" height="2.6" rx="1" fill="rgb(129,129,129)"/>
<rect x="427.3" y="841.7" width="11.7" height="2.6" rx="1" fill="rgb(132,132,132)"/>
<rect x="427.3" y="845.3" width="11.7" height="2.6" rx="1" fill="rgb(141,141,141)"/>
<rect x="440.8" y="841.7" width="11.7" height="2.6" rx="1" fill="rgb(119,119,119)"/>
<rect x="440.8" y="845.3" width="11.7" height="2.6" rx="1" fill="rgb(129,129,129)"/>
<rect x="454.3" y="841.7" width="11.7" height="2.6" rx="1" fill="rgb(92,92,92)"/>
<rect x="454.3" y="845.3" width="11.7" height="2.6" rx="1" fill="rgb(105,105,105)"/>
<rect x="467.8" y="841.7" width="11.7" height="2.6" rx="1" fill="rgb(79,79,79)"/>
<rect x="467.8" y="845.3" width="11.7" height="2.6" rx="1" fill="rgb(93,93,93)"/>
<rect x="481.4" y="841.7" width="11.7" height="2.6" rx="1" fill="rgb(39,39,39)"/>
<rect x="481.4" y="845.3" width="11.7" height="2.6" rx="1" fill="rgb(58,58,58)"/>
<rect x="494.9" y="841.7" width="11.7" height="2.6" rx="1" fill="rgb(79,79,79)"/>
<rect x="494.9" y="845.3" width="11.7" height="2.6" rx="1" fill="rgb(93,93,93)"/>
<rect x="508.4" y="841.7" width="11.7" height="2.6" rx="1" fill="rgb(105,105,105)"/>
<rect x="508.4" y="845.3" width="11.7" height="2.6" rx="1" fill="rgb(117,117,117)"/>
<rect x="521.9" y="841.7" width="11.7" height="2.6" rx="1" fill="rgb(119,119,119)"/>
<rect x="521.9" y="845.3" width="11.7" height="2.6" rx="1" fill="rgb(129,129,129)"/>
<rect x="535.4" y="841.2" width="11.7" height="2.6" rx="1" fill="rgb(119,119,119)"/>
<rect x="535.4" y="845.0" width="11.7" height="2.6" rx="1" fill="rgb(140,140,140)"/>
<rect x="548.9" y="841.0" width="11.7" height="2.6" rx="1" fill="rgb(145,145,145)"/>
<rect x="548.9" y="844.8" width="11.7" height="2.6" rx="1" fill="rgb(161,161,161)"/>
<rect x="562.4" y="840.7" width="11.7" height="2.6" rx="1" fill="rgb(52,52,52)"/>
<rect x="562.4" y="844.5" width="11.7" height="2.6" rx="1" fill="rgb(87,87,87)"/>
<rect x="576.0" y="840.2" width="11.7" height="2.6" rx="1" fill="rgb(39,39,39)"/>
<rect x="576.0" y="844.0" width="11.7" height="2.6" rx="1" fill="rgb(76,76,76)"/>
<rect x="589.5" y="839.7" width="11.7" height="2.6" rx="1" fill="rgb(66,66,66)"/>
<rect x="589.5" y="843.5" width="11.7" height="2.6" rx="1" fill="rgb(97,97,97)"/>
<rect x="603.0" y="838.7" width="11.7" height="2.6" rx="1" fill="rgb(26,26,26)"/>
<rect x="603.0" y="842.5" width="11.7" height="2.6" rx="1" fill="rgb(65,65,65)"/>
<rect x="616.5" y="837.2" width="11.7" height="2.8" rx="1" fill="rgb(0,0,0)"/>
<rect x="616.5" y="841.1" width="11.7" height="2.4" rx="1" fill="rgb(79,79,79)"/>
<rect x="616.5" y="845.1" width="11.7" height="3.0" rx="1" fill="rgb(0,0,0)"/>
<rect x="630.0" y="837.2" width="11.7" height="2.8" rx="1" fill="rgb(0,0,0)"/>
<rect x="630.0" y="841.1" width="11.7" height="2.4" rx="1" fill="rgb(79,79,79)"/>
<rect x="630.0" y="845.1" width="11.7" height="3.0" rx="1" fill="rgb(0,0,0)"/>
<rect x="643.6" y="837.2" width="11.7" height="2.8" rx="1" fill="rgb(0,0,0)"/>
<rect x="643.6" y="841.1" width="11.7" height="2.4" rx="1" fill="rgb(79,79,79)"/>
<rect x="643.6" y="845.1" width="11.7" height="3.0" rx="1" fill="rgb(0,0,0)"/>
<rect x="657.1" y="837.2" width="11.7" height="2.8" rx="1" fill="rgb(0,0,0)"/>
<rect x="657.1" y="841.1" width="11.7" height="2.4" rx="1" fill="rgb(79,79,79)"/>
<rect x="657.1" y="845.1" width="11.7" height="3.0" rx="1" fill="rgb(0,0,0)"/>
<rect x="670.6" y="837.2" width="11.7" height="2.8" rx="1" fill="rgb(0,0,0)"/>
<rect x="670.6" y="841.1" width="11.7" height="2.4" rx="1" fill="rgb(79,79,79)"/>
<rect x="670.6" y="845.1" width="11.7" height="3.0" rx="1" fill="rgb(0,0,0)"/>
</g>
<g filter="url(#bl2)" opacity="0.6">
<rect x="371.6" y="833.6" width="1.4" height="16.899999999999977" fill="#f0f0f0"/>
<rect x="385.1" y="833.6" width="1.4" height="16.899999999999977" fill="#f0f0f0"/>
<rect x="398.7" y="833.6" width="1.4" height="16.899999999999977" fill="#f0f0f0"/>
<rect x="412.2" y="833.6" width="1.4" height="16.899999999999977" fill="#f0f0f0"/>
<rect x="425.7" y="833.6" width="1.4" height="16.899999999999977" fill="#f0f0f0"/>
<rect x="439.2" y="833.6" width="1.4" height="16.899999999999977" fill="#f0f0f0"/>
<rect x="452.7" y="833.6" width="1.4" height="16.899999999999977" fill="#f0f0f0"/>
<rect x="466.2" y="833.6" width="1.4" height="16.899999999999977" fill="#f0f0f0"/>
<rect x="479.8" y="833.6" width="1.4" height="16.899999999999977" fill="#f0f0f0"/>
<rect x="493.3" y="833.6" width="1.4" height="16.899999999999977" fill="#f0f0f0"/>
<rect x="506.8" y="833.6" width="1.4" height="16.899999999999977" fill="#f0f0f0"/>
<rect x="520.3" y="833.6" width="1.4" height="16.899999999999977" fill="#f0f0f0"/>
<rect x="533.8" y="833.6" width="1.4" height="16.899999999999977" fill="#f0f0f0"/>
<rect x="547.3" y="833.6" width="1.4" height="16.899999999999977" fill="#f0f0f0"/>
<rect x="560.8" y="833.6" width="1.4" height="16.899999999999977" fill="#f0f0f0"/>
<rect x="574.4" y="833.6" width="1.4" height="16.899999999999977" fill="#f0f0f0"/>
<rect x="587.9" y="833.6" width="1.4" height="16.899999999999977" fill="#f0f0f0"/>
<rect x="601.4" y="833.6" width="1.4" height="16.899999999999977" fill="#f0f0f0"/>
<rect x="614.9" y="833.6" width="1.4" height="16.899999999999977" fill="#f0f0f0"/>
<rect x="628.4" y="833.6" width="1.4" height="16.899999999999977" fill="#f0f0f0"/>
<rect x="642.0" y="833.6" width="1.4" height="16.899999999999977" fill="#f0f0f0"/>
<rect x="655.5" y="833.6" width="1.4" height="16.899999999999977" fill="#f0f0f0"/>
<rect x="669.0" y="833.6" width="1.4" height="16.899999999999977" fill="#f0f0f0"/>
</g>
<rect x="358.8" y="833.6" width="324.40000000000003" height="16.899999999999977" fill="none" stroke="#1a1a1a" stroke-width="1.7"/>
<rect x="358.8" y="854.0" width="324.40000000000003" height="14.600000000000023" fill="#b4b4b4"/>
<g filter="url(#bl)">
<rect x="359.7" y="861.0" width="11.7" height="3.2" rx="1" fill="rgb(13,13,13)"/>
<rect x="359.7" y="857.1" width="11.7" height="2.6" rx="1" fill="rgb(105,105,105)"/>
<rect x="373.2" y="861.0" width="11.7" height="3.2" rx="1" fill="rgb(13,13,13)"/>
<rect x="373.2" y="857.1" width="11.7" height="2.6" rx="1" fill="rgb(105,105,105)"/>
<rect x="386.7" y="861.0" width="11.7" height="3.2" rx="1" fill="rgb(13,13,13)"/>
<rect x="386.7" y="857.1" width="11.7" height="2.6" rx="1" fill="rgb(105,105,105)"/>
<rect x="400.2" y="861.0" width="11.7" height="3.2" rx="1" fill="rgb(0,0,0)"/>
<rect x="400.2" y="857.1" width="11.7" height="2.6" rx="1" fill="rgb(105,105,105)"/>
<rect x="413.8" y="861.0" width="11.7" height="3.2" rx="1" fill="rgb(66,66,66)"/>
<rect x="413.8" y="857.1" width="11.7" height="2.6" rx="1" fill="rgb(105,105,105)"/>
<rect x="427.3" y="861.0" width="11.7" height="3.2" rx="1" fill="rgb(66,66,66)"/>
<rect x="427.3" y="857.1" width="11.7" height="2.6" rx="1" fill="rgb(105,105,105)"/>
<rect x="440.8" y="861.0" width="11.7" height="3.2" rx="1" fill="rgb(66,66,66)"/>
<rect x="440.8" y="857.1" width="11.7" height="2.6" rx="1" fill="rgb(105,105,105)"/>
<rect x="454.3" y="861.0" width="11.7" height="3.2" rx="1" fill="rgb(39,39,39)"/>
<rect x="454.3" y="857.1" width="11.7" height="2.6" rx="1" fill="rgb(105,105,105)"/>
<rect x="467.8" y="861.0" width="11.7" height="3.2" rx="1" fill="rgb(39,39,39)"/>
<rect x="467.8" y="857.1" width="11.7" height="2.6" rx="1" fill="rgb(105,105,105)"/>
<rect x="481.4" y="861.0" width="11.7" height="3.2" rx="1" fill="rgb(0,0,0)"/>
<rect x="481.4" y="857.1" width="11.7" height="2.6" rx="1" fill="rgb(105,105,105)"/>
<rect x="494.9" y="861.0" width="11.7" height="3.2" rx="1" fill="rgb(39,39,39)"/>
<rect x="494.9" y="857.1" width="11.7" height="2.6" rx="1" fill="rgb(105,105,105)"/>
<rect x="508.4" y="861.0" width="11.7" height="3.2" rx="1" fill="rgb(52,52,52)"/>
<rect x="508.4" y="857.1" width="11.7" height="2.6" rx="1" fill="rgb(105,105,105)"/>
<rect x="521.9" y="860.5" width="11.7" height="3.2" rx="1" fill="rgb(39,39,39)"/>
<rect x="521.9" y="856.6" width="11.7" height="2.6" rx="1" fill="rgb(105,105,105)"/>
<rect x="535.4" y="860.1" width="11.7" height="3.2" rx="1" fill="rgb(26,26,26)"/>
<rect x="535.4" y="856.2" width="11.7" height="2.6" rx="1" fill="rgb(105,105,105)"/>
<rect x="548.9" y="859.6" width="11.7" height="3.2" rx="1" fill="rgb(52,52,52)"/>
<rect x="548.9" y="855.8" width="11.7" height="2.6" rx="1" fill="rgb(105,105,105)"/>
<rect x="562.4" y="859.2" width="11.7" height="3.2" rx="1" fill="rgb(39,39,39)"/>
<rect x="562.4" y="855.3" width="11.7" height="2.6" rx="1" fill="rgb(105,105,105)"/>
<rect x="576.0" y="858.8" width="11.7" height="3.2" rx="1" fill="rgb(13,13,13)"/>
<rect x="576.0" y="854.9" width="11.7" height="2.6" rx="1" fill="rgb(105,105,105)"/>
<rect x="589.5" y="858.3" width="11.7" height="3.2" rx="1" fill="rgb(26,26,26)"/>
<rect x="589.5" y="854.4" width="11.7" height="2.6" rx="1" fill="rgb(105,105,105)"/>
<rect x="603.0" y="857.9" width="11.7" height="3.2" rx="1" fill="rgb(145,145,145)"/>
<rect x="603.0" y="854.0" width="11.7" height="2.6" rx="1" fill="rgb(105,105,105)"/>
<rect x="616.5" y="857.4" width="11.7" height="3.2" rx="1" fill="rgb(39,39,39)"/>
<rect x="616.5" y="853.5" width="11.7" height="2.6" rx="1" fill="rgb(105,105,105)"/>
<rect x="630.0" y="857.0" width="11.7" height="3.2" rx="1" fill="rgb(26,26,26)"/>
<rect x="630.0" y="853.1" width="11.7" height="2.6" rx="1" fill="rgb(105,105,105)"/>
<rect x="643.6" y="856.5" width="11.7" height="3.2" rx="1" fill="rgb(13,13,13)"/>
<rect x="643.6" y="852.6" width="11.7" height="2.6" rx="1" fill="rgb(105,105,105)"/>
<rect x="657.1" y="856.0" width="11.7" height="3.2" rx="1" fill="rgb(26,26,26)"/>
<rect x="657.1" y="852.1" width="11.7" height="2.6" rx="1" fill="rgb(105,105,105)"/>
<rect x="670.6" y="855.6" width="11.7" height="3.2" rx="1" fill="rgb(92,92,92)"/>
<rect x="670.6" y="851.7" width="11.7" height="2.6" rx="1" fill="rgb(105,105,105)"/>
</g>
<g filter="url(#bl2)" opacity="0.6">
<rect x="371.6" y="854.0" width="1.4" height="14.600000000000023" fill="#f0f0f0"/>
<rect x="385.1" y="854.0" width="1.4" height="14.600000000000023" fill="#f0f0f0"/>
<rect x="398.7" y="854.0" width="1.4" height="14.600000000000023" fill="#f0f0f0"/>
<rect x="412.2" y="854.0" width="1.4" height="14.600000000000023" fill="#f0f0f0"/>
<rect x="425.7" y="854.0" width="1.4" height="14.600000000000023" fill="#f0f0f0"/>
<rect x="439.2" y="854.0" width="1.4" height="14.600000000000023" fill="#f0f0f0"/>
<rect x="452.7" y="854.0" width="1.4" height="14.600000000000023" fill="#f0f0f0"/>
<rect x="466.2" y="854.0" width="1.4" height="14.600000000000023" fill="#f0f0f0"/>
<rect x="479.8" y="854.0" width="1.4" height="14.600000000000023" fill="#f0f0f0"/>
<rect x="493.3" y="854.0" width="1.4" height="14.600000000000023" fill="#f0f0f0"/>
<rect x="506.8" y="854.0" width="1.4" height="14.600000000000023" fill="#f0f0f0"/>
<rect x="520.3" y="854.0" width="1.4" height="14.600000000000023" fill="#f0f0f0"/>
<rect x="533.8" y="854.0" width="1.4" height="14.600000000000023" fill="#f0f0f0"/>
<rect x="547.3" y="854.0" width="1.4" height="14.600000000000023" fill="#f0f0f0"/>
<rect x="560.8" y="854.0" width="1.4" height="14.600000000000023" fill="#f0f0f0"/>
<rect x="574.4" y="854.0" width="1.4" height="14.600000000000023" fill="#f0f0f0"/>
<rect x="587.9" y="854.0" width="1.4" height="14.600000000000023" fill="#f0f0f0"/>
<rect x="601.4" y="854.0" width="1.4" height="14.600000000000023" fill="#f0f0f0"/>
<rect x="614.9" y="854.0" width="1.4" height="14.600000000000023" fill="#f0f0f0"/>
<rect x="628.4" y="854.0" width="1.4" height="14.600000000000023" fill="#f0f0f0"/>
<rect x="642.0" y="854.0" width="1.4" height="14.600000000000023" fill="#f0f0f0"/>
<rect x="655.5" y="854.0" width="1.4" height="14.600000000000023" fill="#f0f0f0"/>
<rect x="669.0" y="854.0" width="1.4" height="14.600000000000023" fill="#f0f0f0"/>
</g>
<polygon points="358.8,866.2 413.8,866.4 413.8,868.6 358.8,868.6" fill="#f6f6f6"/>
<polygon points="521.8,868.6 683.2,859.5 683.2,868.6" fill="#fafafa"/>
<rect x="358.8" y="854.0" width="324.40000000000003" height="14.600000000000023" fill="none" stroke="#1a1a1a" stroke-width="1.7"/>
<rect x="358.8" y="873.0" width="324.40000000000003" height="15.5" fill="#d6d6d6"/>
<g filter="url(#bl)">
<rect x="359.7" y="875.9" width="11.7" height="2.8" rx="1" fill="rgb(0,0,0)"/>
<rect x="359.7" y="883.2" width="11.7" height="3.0" rx="1" fill="rgb(0,0,0)"/>
<rect x="373.2" y="876.8" width="11.7" height="2.4" rx="1" fill="rgb(172,172,172)"/>
<rect x="373.2" y="883.2" width="11.7" height="3.0" rx="1" fill="rgb(13,13,13)"/>
<rect x="386.7" y="883.5" width="11.7" height="3.0" rx="1" fill="rgb(0,0,0)"/>
<rect x="386.7" y="877.8" width="11.7" height="2.4" rx="1" fill="rgb(158,158,158)"/>
<rect x="400.2" y="879.4" width="11.7" height="2.8" rx="1" fill="rgb(13,13,13)"/>
<rect x="400.2" y="883.7" width="11.7" height="2.6" rx="1" fill="rgb(92,92,92)"/>
<rect x="413.8" y="878.7" width="11.7" height="2.6" rx="1" fill="rgb(92,92,92)"/>
<rect x="427.3" y="881.7" width="11.7" height="2.6" rx="1" fill="rgb(166,166,166)"/>
<rect x="440.8" y="881.7" width="11.7" height="2.6" rx="1" fill="rgb(132,132,132)"/>
<rect x="454.3" y="881.1" width="11.7" height="3.0" rx="1" fill="rgb(0,0,0)"/>
<rect x="467.8" y="881.1" width="11.7" height="3.0" rx="1" fill="rgb(13,13,13)"/>
<rect x="481.4" y="881.1" width="11.7" height="3.0" rx="1" fill="rgb(26,26,26)"/>
<rect x="494.9" y="881.1" width="11.7" height="3.0" rx="1" fill="rgb(52,52,52)"/>
<rect x="508.4" y="881.1" width="11.7" height="3.0" rx="1" fill="rgb(39,39,39)"/>
<rect x="521.9" y="880.9" width="11.7" height="3.0" rx="1" fill="rgb(66,66,66)"/>
<rect x="535.4" y="880.8" width="11.7" height="2.8" rx="1" fill="rgb(119,119,119)"/>
<rect x="548.9" y="880.6" width="11.7" height="2.8" rx="1" fill="rgb(132,132,132)"/>
<rect x="562.4" y="880.6" width="11.7" height="2.8" rx="1" fill="rgb(79,79,79)"/>
<rect x="576.0" y="880.2" width="11.7" height="2.8" rx="1" fill="rgb(66,66,66)"/>
<rect x="589.5" y="879.6" width="11.7" height="2.8" rx="1" fill="rgb(26,26,26)"/>
<rect x="589.5" y="876.3" width="11.7" height="2.4" rx="1" fill="rgb(66,66,66)"/>
<rect x="603.0" y="881.4" width="11.7" height="3.2" rx="1" fill="rgb(13,13,13)"/>
<rect x="616.5" y="881.3" width="11.7" height="2.4" rx="1" fill="rgb(185,185,185)"/>
<rect x="630.0" y="881.1" width="11.7" height="2.8" rx="1" fill="rgb(39,39,39)"/>
<rect x="643.6" y="879.1" width="11.7" height="2.8" rx="1" fill="rgb(0,0,0)"/>
<rect x="643.6" y="875.3" width="11.7" height="2.4" rx="1" fill="rgb(39,39,39)"/>
<rect x="657.1" y="878.6" width="11.7" height="2.8" rx="1" fill="rgb(0,0,0)"/>
<rect x="657.1" y="874.8" width="11.7" height="2.4" rx="1" fill="rgb(39,39,39)"/>
<rect x="670.6" y="878.1" width="11.7" height="2.8" rx="1" fill="rgb(0,0,0)"/>
</g>
<g filter="url(#bl2)" opacity="0.6">
<rect x="371.6" y="873.0" width="1.4" height="15.5" fill="#f0f0f0"/>
<rect x="385.1" y="873.0" width="1.4" height="15.5" fill="#f0f0f0"/>
<rect x="398.7" y="873.0" width="1.4" height="15.5" fill="#f0f0f0"/>
<rect x="412.2" y="873.0" width="1.4" height="15.5" fill="#f0f0f0"/>
<rect x="425.7" y="873.0" width="1.4" height="15.5" fill="#f0f0f0"/>
<rect x="439.2" y="873.0" width="1.4" height="15.5" fill="#f0f0f0"/>
<rect x="452.7" y="873.0" width="1.4" height="15.5" fill="#f0f0f0"/>
<rect x="466.2" y="873.0" width="1.4" height="15.5" fill="#f0f0f0"/>
<rect x="479.8" y="873.0" width="1.4" height="15.5" fill="#f0f0f0"/>
<rect x="493.3" y="873.0" width="1.4" height="15.5" fill="#f0f0f0"/>
<rect x="506.8" y="873.0" width="1.4" height="15.5" fill="#f0f0f0"/>
<rect x="520.3" y="873.0" width="1.4" height="15.5" fill="#f0f0f0"/>
<rect x="533.8" y="873.0" width="1.4" height="15.5" fill="#f0f0f0"/>
<rect x="547.3" y="873.0" width="1.4" height="15.5" fill="#f0f0f0"/>
<rect x="560.8" y="873.0" width="1.4" height="15.5" fill="#f0f0f0"/>
<rect x="574.4" y="873.0" width="1.4" height="15.5" fill="#f0f0f0"/>
<rect x="587.9" y="873.0" width="1.4" height="15.5" fill="#f0f0f0"/>
<rect x="601.4" y="873.0" width="1.4" height="15.5" fill="#f0f0f0"/>
<rect x="614.9" y="873.0" width="1.4" height="15.5" fill="#f0f0f0"/>
<rect x="628.4" y="873.0" width="1.4" height="15.5" fill="#f0f0f0"/>
<rect x="642.0" y="873.0" width="1.4" height="15.5" fill="#f0f0f0"/>
<rect x="655.5" y="873.0" width="1.4" height="15.5" fill="#f0f0f0"/>
<rect x="669.0" y="873.0" width="1.4" height="15.5" fill="#f0f0f0"/>
</g>
<rect x="358.8" y="873.0" width="324.40000000000003" height="15.5" fill="none" stroke="#1a1a1a" stroke-width="1.7"/>
<text transform="translate(17.42,22.48) scale(1.0280,1.0347)" font-size="24.00" font-weight="bold" font-style="normal" fill="#111">A</text>
<text transform="translate(230.65,23.90) scale(0.9979,1.0669)" font-size="24.00" font-weight="bold" font-style="normal" fill="#111">B</text>
<text transform="translate(434.52,17.40) scale(0.9853,1.0044)" font-size="24.00" font-weight="bold" font-style="normal" fill="#111">C</text>
<text transform="translate(18.85,187.33) scale(1.0129,1.0516)" font-size="24.00" font-weight="bold" font-style="normal" fill="#111">D</text>
<text transform="translate(234.68,188.23) scale(0.9889,1.0228)" font-size="24.00" font-weight="bold" font-style="normal" fill="#111">E</text>
<text transform="translate(18.66,365.69) scale(0.9575,1.0505)" font-size="24.00" font-weight="bold" font-style="normal" fill="#111">F</text>
<text transform="translate(18.06,542.74) scale(1.0171,1.0407)" font-size="24.00" font-weight="bold" font-style="normal" fill="#111">G</text>
<text transform="translate(233.88,543.89) scale(0.9589,1.0505)" font-size="24.00" font-weight="bold" font-style="normal" fill="#111">H</text>
<text transform="translate(19.40,723.00) scale(0.8625,1.0203)" font-size="24.00" font-weight="bold" font-style="normal" fill="#111">I</text>
<text transform="translate(17.59,904.13) scale(0.9927,1.0384)" font-size="24.00" font-weight="bold" font-style="normal" fill="#111">J</text>
<text transform="translate(307.63,746.90) scale(0.9974,1.0228)" font-size="24.00" font-weight="bold" font-style="normal" fill="#111">K</text>
<text transform="translate(90.11,23.19) scale(1.0158,1.0150)" font-size="15.50" font-weight="bold" font-style="italic" fill="#111">Glpr1</text>
<text transform="translate(309.13,23.91) scale(1.0075,1.1176)" font-size="15.30" font-weight="bold" font-style="normal" fill="#111">GLP1</text>
<text transform="translate(513.55,21.36) scale(1.0511,1.0409)" font-size="15.60" font-weight="bold" font-style="normal" fill="#111">GLP1R</text>
<text transform="translate(107.54,198.33) scale(1.0111,1.1364)" font-size="15.30" font-weight="bold" font-style="italic" fill="#111">Tas1r3</text>
<text transform="translate(319.71,198.63) scale(1.0129,1.0691)" font-size="15.30" font-weight="bold" font-style="normal" fill="#111">TAS1R3</text>
<text transform="translate(120.20,370.51) scale(1.0006,1.0267)" font-size="15.50" font-weight="bold" font-style="italic" fill="#111">Pyy</text>
<text transform="translate(104.18,551.43) scale(0.9945,1.0071)" font-size="15.50" font-weight="bold" font-style="italic" fill="#111">Cd36</text>
<text transform="translate(332.31,549.62) scale(1.0369,1.0562)" font-size="15.30" font-weight="bold" font-style="normal" fill="#111">CD36</text>
<text transform="translate(109.16,725.13) scale(1.0172,1.0438)" font-size="15.50" font-weight="bold" font-style="italic" fill="#111">Slc5a1</text>
<text transform="translate(120.36,909.00) scale(1.0381,0.9999)" font-size="15.50" font-weight="bold" font-style="italic" fill="#111">Gcg</text>
<text transform="translate(52.70,167.40) scale(1.0256,1.0238)" font-size="13.00" font-weight="bold" font-style="normal" fill="#111">Male</text>
<text transform="translate(130.05,167.18) scale(0.9995,1.0275)" font-size="13.00" font-weight="bold" font-style="normal" fill="#111">Female</text>
<text transform="translate(272.42,167.87) scale(1.0136,1.0291)" font-size="13.00" font-weight="bold" font-style="normal" fill="#111">Male</text>
<text transform="translate(349.95,167.20) scale(1.0081,1.0229)" font-size="13.00" font-weight="bold" font-style="normal" fill="#111">Female</text>
<text transform="translate(483.16,164.98) scale(1.0202,1.0304)" font-size="13.00" font-weight="bold" font-style="normal" fill="#111">Male</text>
<text transform="translate(561.09,164.80) scale(1.0064,1.0290)" font-size="13.00" font-weight="bold" font-style="normal" fill="#111">Female</text>
<text transform="translate(74.52,343.50) scale(1.0092,1.0299)" font-size="13.00" font-weight="bold" font-style="normal" fill="#111">Male</text>
<text transform="translate(151.05,342.95) scale(1.0126,1.0248)" font-size="13.00" font-weight="bold" font-style="normal" fill="#111">Female</text>
<text transform="translate(291.48,342.15) scale(1.0344,1.0266)" font-size="13.00" font-weight="bold" font-style="normal" fill="#111">Male</text>
<text transform="translate(369.71,342.13) scale(0.9961,1.0265)" font-size="13.00" font-weight="bold" font-style="normal" fill="#111">Female</text>
<text transform="translate(76.57,514.69) scale(1.0317,1.0266)" font-size="13.00" font-weight="bold" font-style="normal" fill="#111">Male</text>
<text transform="translate(153.59,515.32) scale(1.0022,1.0296)" font-size="13.00" font-weight="bold" font-style="normal" fill="#111">Female</text>
<text transform="translate(65.12,695.16) scale(1.0257,1.0275)" font-size="13.00" font-weight="bold" font-style="normal" fill="#111">Male</text>
<text transform="translate(142.05,694.77) scale(1.0126,1.0248)" font-size="13.00" font-weight="bold" font-style="normal" fill="#111">Female</text>
<text transform="translate(295.17,692.93) scale(1.0322,1.0259)" font-size="13.00" font-weight="bold" font-style="normal" fill="#111">Male</text>
<text transform="translate(372.84,692.53) scale(1.0046,1.0267)" font-size="13.00" font-weight="bold" font-style="normal" fill="#111">Female</text>
<text transform="translate(76.48,868.78) scale(1.0118,1.0295)" font-size="13.00" font-weight="bold" font-style="normal" fill="#111">Male</text>
<text transform="translate(153.25,869.79) scale(1.0037,1.0348)" font-size="13.00" font-weight="bold" font-style="normal" fill="#111">Female</text>
<text transform="translate(78.33,1053.99) scale(0.9972,1.0273)" font-size="13.00" font-weight="bold" font-style="normal" fill="#111">Male</text>
<text transform="translate(155.33,1054.21) scale(1.0275,1.0266)" font-size="13.00" font-weight="bold" font-style="normal" fill="#111">Female</text>
<text transform="translate(130.40,50.53) scale(1.0439,1.1848)" font-size="11.00" font-weight="bold" font-style="normal" fill="#2a2a2a" letter-spacing="1.6">**</text>
<text transform="translate(165.28,76.69) scale(0.9787,1.0593)" font-size="11.00" font-weight="bold" font-style="normal" fill="#2a2a2a">*</text>
<text transform="translate(298.99,59.87) scale(1.2338,1.2349)" font-size="12.00" font-weight="normal" font-style="normal" fill="#111">#</text>
<text transform="translate(386.45,84.48) scale(0.9822,1.0684)" font-size="11.00" font-weight="bold" font-style="normal" fill="#2a2a2a">*</text>
<text transform="translate(405.65,618.07) scale(1.0459,1.1268)" font-size="11.00" font-weight="bold" font-style="normal" fill="#2a2a2a" letter-spacing="1.6">**</text>
<text transform="translate(188.54,785.71) scale(0.9709,0.9316)" font-size="11.00" font-weight="bold" font-style="normal" fill="#111">#</text>
<text transform="translate(183.57,803.65) scale(1.0393,1.2674)" font-size="11.00" font-weight="bold" font-style="normal" fill="#2a2a2a" letter-spacing="1.6">***</text>
<text transform="translate(296.79,785.31) scale(0.9925,1.1141)" font-size="14.00" font-weight="bold" font-style="normal" fill="#111">TA S1R3</text>
<text transform="translate(297.40,803.64) scale(1.0546,1.0211)" font-size="14.00" font-weight="bold" font-style="normal" fill="#111">β-actina</text>
<text transform="translate(307.05,826.12) scale(1.0484,1.0343)" font-size="14.00" font-weight="bold" font-style="normal" fill="#111">GLP1</text>
<text transform="translate(313.33,847.57) scale(1.0201,1.0759)" font-size="14.00" font-weight="bold" font-style="normal" fill="#111">PYY</text>
<text transform="translate(308.62,866.44) scale(1.1115,1.0113)" font-size="14.00" font-weight="bold" font-style="normal" fill="#111">CD36</text>
<text transform="translate(302.97,886.18) scale(1.0547,1.0921)" font-size="14.00" font-weight="bold" font-style="normal" fill="#111">GLP1R</text>
<text transform="translate(361.97,756.34) scale(1.0664,0.9959)" font-size="15.50" font-weight="bold" font-style="normal" fill="#111">Control</text>
<text transform="translate(466.15,757.06) scale(1.0345,1.0417)" font-size="15.50" font-weight="bold" font-style="normal" fill="#111">Sac</text>
<text transform="translate(535.79,756.54) scale(1.0644,1.0548)" font-size="15.50" font-weight="bold" font-style="normal" fill="#111">Control</text>
<text transform="translate(626.66,756.54) scale(1.0222,1.0998)" font-size="15.50" font-weight="bold" font-style="normal" fill="#111">Sac</text>
<text transform="translate(19.24,156.67) scale(0.9865,1.0875)" font-size="13.00" font-weight="bold" font-style="normal" fill="#1a1a1a">0</text>
<text transform="translate(19.09,121.10) scale(0.9865,1.0875)" font-size="13.00" font-weight="bold" font-style="normal" fill="#1a1a1a">1</text>
<text transform="translate(19.14,85.53) scale(0.9865,1.0875)" font-size="13.00" font-weight="bold" font-style="normal" fill="#1a1a1a">2</text>
<text transform="translate(19.26,49.96) scale(0.9865,1.0875)" font-size="13.00" font-weight="bold" font-style="normal" fill="#111">3</text>
<text transform="translate(229.62,154.29) scale(0.8501,0.9256)" font-size="13.00" font-weight="bold" font-style="normal" fill="#1a1a1a">0.0</text>
<text transform="translate(229.61,133.07) scale(0.8501,0.9256)" font-size="13.00" font-weight="bold" font-style="normal" fill="#1a1a1a">0.5</text>
<text transform="translate(229.62,111.84) scale(0.8501,0.9256)" font-size="13.00" font-weight="bold" font-style="normal" fill="#1a1a1a">1.0</text>
<text transform="translate(229.61,90.62) scale(0.8501,0.9256)" font-size="13.00" font-weight="bold" font-style="normal" fill="#1a1a1a">1.5</text>
<text transform="translate(229.62,69.39) scale(0.8501,0.9256)" font-size="13.00" font-weight="bold" font-style="normal" fill="#1a1a1a">2.0</text>
<text transform="translate(229.56,48.17) scale(0.8501,0.9256)" font-size="13.00" font-weight="bold" font-style="normal" fill="#111">2.5</text>
<text transform="translate(440.24,153.71) scale(0.8495,0.8856)" font-size="13.00" font-weight="bold" font-style="normal" fill="#1a1a1a">0.0</text>
<text transform="translate(439.99,118.01) scale(0.8495,0.8856)" font-size="13.00" font-weight="bold" font-style="normal" fill="#1a1a1a">0.5</text>
<text transform="translate(440.24,82.31) scale(0.8495,0.8856)" font-size="13.00" font-weight="bold" font-style="normal" fill="#1a1a1a">1.0</text>
<text transform="translate(439.91,46.61) scale(0.8495,0.8856)" font-size="13.00" font-weight="bold" font-style="normal" fill="#111">1.5</text>
<text transform="translate(29.18,330.52) scale(1.0112,1.1436)" font-size="13.00" font-weight="bold" font-style="normal" fill="#1a1a1a">0.0</text>
<text transform="translate(29.13,295.22) scale(1.0112,1.1436)" font-size="13.00" font-weight="bold" font-style="normal" fill="#1a1a1a">0.5</text>
<text transform="translate(29.18,259.92) scale(1.0112,1.1436)" font-size="13.00" font-weight="bold" font-style="normal" fill="#1a1a1a">1.0</text>
<text transform="translate(29.08,224.62) scale(1.0112,1.1436)" font-size="13.00" font-weight="bold" font-style="normal" fill="#111">1.5</text>
<text transform="translate(247.85,330.23) scale(0.8894,0.9954)" font-size="13.00" font-weight="bold" font-style="normal" fill="#1a1a1a">0.0</text>
<text transform="translate(247.69,308.63) scale(0.8894,0.9954)" font-size="13.00" font-weight="bold" font-style="normal" fill="#1a1a1a">0.5</text>
<text transform="translate(247.85,287.03) scale(0.8894,0.9954)" font-size="13.00" font-weight="bold" font-style="normal" fill="#1a1a1a">1.0</text>
<text transform="translate(247.69,265.43) scale(0.8894,0.9954)" font-size="13.00" font-weight="bold" font-style="normal" fill="#1a1a1a">1.5</text>
<text transform="translate(247.85,243.83) scale(0.8894,0.9954)" font-size="13.00" font-weight="bold" font-style="normal" fill="#1a1a1a">2.0</text>
<text transform="translate(247.80,222.23) scale(0.8894,0.9954)" font-size="13.00" font-weight="bold" font-style="normal" fill="#111">2.5</text>
<text transform="translate(31.21,504.28) scale(0.9961,1.0677)" font-size="13.00" font-weight="bold" font-style="normal" fill="#1a1a1a">0.0</text>
<text transform="translate(31.17,468.53) scale(0.9961,1.0677)" font-size="13.00" font-weight="bold" font-style="normal" fill="#1a1a1a">0.5</text>
<text transform="translate(31.21,432.78) scale(0.9961,1.0677)" font-size="13.00" font-weight="bold" font-style="normal" fill="#1a1a1a">1.0</text>
<text transform="translate(31.12,397.03) scale(0.9961,1.0677)" font-size="13.00" font-weight="bold" font-style="normal" fill="#111">1.5</text>
<text transform="translate(31.78,684.65) scale(0.9603,1.0333)" font-size="13.00" font-weight="bold" font-style="normal" fill="#1a1a1a">0</text>
<text transform="translate(31.66,649.05) scale(0.9603,1.0333)" font-size="13.00" font-weight="bold" font-style="normal" fill="#1a1a1a">1</text>
<text transform="translate(31.72,613.45) scale(0.9603,1.0333)" font-size="13.00" font-weight="bold" font-style="normal" fill="#1a1a1a">2</text>
<text transform="translate(31.87,577.85) scale(0.9603,1.0333)" font-size="13.00" font-weight="bold" font-style="normal" fill="#111">3</text>
<text transform="translate(252.49,681.20) scale(0.8451,0.8446)" font-size="13.00" font-weight="bold" font-style="normal" fill="#1a1a1a">0.0</text>
<text transform="translate(252.25,645.45) scale(0.8451,0.8446)" font-size="13.00" font-weight="bold" font-style="normal" fill="#1a1a1a">0.5</text>
<text transform="translate(252.49,609.70) scale(0.8451,0.8446)" font-size="13.00" font-weight="bold" font-style="normal" fill="#1a1a1a">1.0</text>
<text transform="translate(252.31,573.95) scale(0.8451,0.8446)" font-size="13.00" font-weight="bold" font-style="normal" fill="#111">1.5</text>
<text transform="translate(31.17,859.17) scale(0.9998,1.0762)" font-size="13.00" font-weight="bold" font-style="normal" fill="#1a1a1a">0.0</text>
<text transform="translate(31.12,823.32) scale(0.9998,1.0762)" font-size="13.00" font-weight="bold" font-style="normal" fill="#1a1a1a">0.5</text>
<text transform="translate(31.17,787.47) scale(0.9998,1.0762)" font-size="13.00" font-weight="bold" font-style="normal" fill="#1a1a1a">1.0</text>
<text transform="translate(31.12,751.62) scale(0.9998,1.0762)" font-size="13.00" font-weight="bold" font-style="normal" fill="#111">1.5</text>
<text transform="translate(31.90,1042.89) scale(1.0238,1.1027)" font-size="13.00" font-weight="bold" font-style="normal" fill="#1a1a1a">0.0</text>
<text transform="translate(31.91,1016.17) scale(1.0238,1.1027)" font-size="13.00" font-weight="bold" font-style="normal" fill="#1a1a1a">0.5</text>
<text transform="translate(31.90,989.44) scale(1.0238,1.1027)" font-size="13.00" font-weight="bold" font-style="normal" fill="#1a1a1a">1.0</text>
<text transform="translate(31.91,962.72) scale(1.0238,1.1027)" font-size="13.00" font-weight="bold" font-style="normal" fill="#1a1a1a">1.5</text>
<text transform="translate(32.18,935.99) scale(1.0238,1.1027)" font-size="13.00" font-weight="bold" font-style="normal" fill="#111">2.0</text>
</svg>
</body></html>
